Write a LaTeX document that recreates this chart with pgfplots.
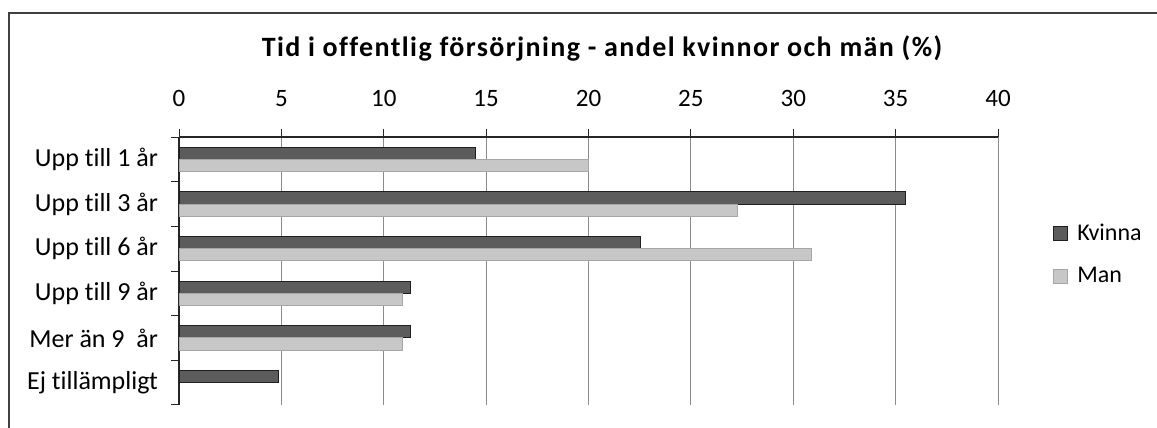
\documentclass[border=0pt]{standalone}
\usepackage{fontspec}
\setmainfont{Carlito}[Ligatures=CommonOff]
\usepackage{pgfplots}
\pgfplotsset{compat=1.18}
\begin{document}
\begin{tikzpicture}
\useasboundingbox (0,0) rectangle (578.5pt,214pt);
\draw[black!75, line width=0.6pt] (4.5pt,0) -- (4.5pt,207.5pt) -- (578.5pt,207.5pt);
\node[anchor=base, inner sep=0pt, font=\bfseries\fontsize{14}{16}\selectfont\addfontfeatures{LetterSpace=5}] at (301pt,185.5pt) {Tid i offentlig försörjning - andel kvinnor och män (\%)};
\begin{axis}[
  at={(89.5pt,11.5pt)}, anchor=south west,
  scale only axis, width=409.5pt, height=134pt,
  xbar=0pt, bar width=6.15pt,
  xmin=0, xmax=40, ymin=-0.5, ymax=5.5,
  axis x line*=top, axis y line*=left,
  axis line style={-, black!85, line width=0.6pt},
  xtick={0,5,...,40},
  xmajorgrids, grid style={black!45, line width=0.5pt},
  ytick={-0.5,0.5,...,5.5}, yticklabels={},
  extra y ticks={0,1,2,3,4,5},
  extra y tick labels={Ej tillämpligt, Mer än 9~\ år, Upp till 9 år\ , Upp till 6 år, Upp till 3 år, Upp till 1 år},
  extra y tick style={major tick length=0pt, tick label style={font=\fontsize{13}{15}\selectfont}},
  tick align=outside, major tick length=4pt,
  tick style={black!85, line width=0.5pt},
  /pgf/number format/assume math mode=true,
  tick label style={font=\fontsize{12.5}{14}\selectfont},
  xticklabel shift=7.5pt,
  yticklabel shift=7pt,
  legend style={at={(1.067,0.56)}, anchor=west, draw=none, fill=none,
    font=\fontsize{12}{14}\selectfont, row sep=8pt, inner sep=0pt,
    cells={anchor=west}},
  legend image code/.code={\draw[#1] (0pt,-3.5pt) rectangle (7pt,3.5pt); \path (9.5pt,0pt);},
]
\addplot[fill=black!64, draw=black!88, line width=0.5pt, bar shift=3.075pt] coordinates {
  (14.5,5) (35.5,4) (22.55,3) (11.3,2) (11.3,1) (4.85,0)};
\addlegendentry{Kvinna}
\addplot[fill=black!22, draw=black!35, line width=0.5pt, bar shift=-3.075pt] coordinates {
  (20.0,5) (27.3,4) (30.9,3) (10.9,2) (10.9,1)};
\addlegendentry{Man}
\end{axis}
\end{tikzpicture}
\end{document}
